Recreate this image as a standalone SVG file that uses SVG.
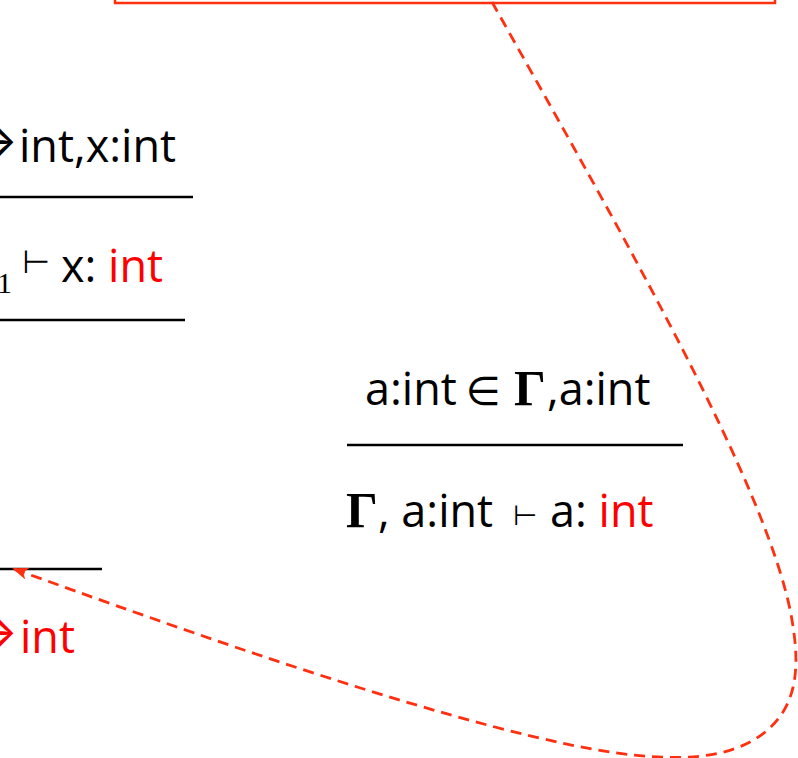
<svg xmlns="http://www.w3.org/2000/svg" width="798" height="758" viewBox="0 0 798 758">
<style>
.s{font-family:"Open Sans","Liberation Sans",sans-serif;font-size:45px;fill:#000}
.r{fill:#ff0000}
.g{font-family:"Liberation Serif","Times New Roman",serif;font-weight:bold;font-size:50px;fill:#000}
.m{font-family:"DejaVu Sans",sans-serif;fill:#000}
.ar{font-family:Inter,sans-serif;font-size:46px}
.bar{stroke:#000;stroke-width:2.5;fill:none}
.conn{stroke:#ff3010;stroke-width:2.8;fill:none;stroke-dasharray:11 7}
</style>
<defs>
<marker id="ah" markerWidth="16" markerHeight="12" refX="14" refY="6" orient="auto" markerUnits="userSpaceOnUse">
<path d="M0,0 L16,6 L0,12 L4,6 Z" fill="#ff3010"/>
</marker>
</defs>
<g id="box">
<rect x="115" y="-40" width="660" height="43" fill="none" stroke="#ff3010" stroke-width="2.5"/>
</g>
<g id="rule-left-top">
<text class="ar" x="18" y="157" text-anchor="end" fill="#000">→</text>
<text class="s" x="19" y="162">int,x:int</text>
<line class="bar" x1="0" y1="197" x2="193" y2="197"/>
<text x="-3" y="293" font-family="Liberation Serif,serif" font-size="30" fill="#000">1</text>
<text class="m" x="22" y="273" font-size="32">⊢</text>
<text class="s" x="61" y="282">x: <tspan class="r">int</tspan></text>
<line class="bar" x1="0" y1="320" x2="185" y2="320"/>
</g>
<g id="rule-left-bottom">
<line class="bar" x1="0" y1="569" x2="102" y2="569"/>
<text class="ar r" x="18" y="648" text-anchor="end">→</text>
<text class="s r" x="20" y="653">int</text>
</g>
<g id="rule-right">
<text class="s" x="365" y="405">a:int</text>
<text class="m" x="466" y="405" font-size="40">∈</text>
<text class="g" x="514" y="405">Γ</text>
<text class="s" x="547" y="405">,a:int</text>
<line class="bar" x1="347" y1="445" x2="683" y2="445"/>
<text class="g" x="346" y="527">Γ</text>
<text class="s" x="378" y="527">, a:int</text>
<text class="m" x="513" y="525" font-size="28">⊢</text>
<text class="s" x="550" y="527">a: <tspan class="r">int</tspan></text>
</g>
<g id="connectors">
<path class="conn" d="M492,2 C620,230 770,490 792,620 C800,667 800,715 750,742 C720,758 680,760 633,755 C483,739 164,623 14,569" marker-end="url(#ah)"/>
</g>
</svg>
